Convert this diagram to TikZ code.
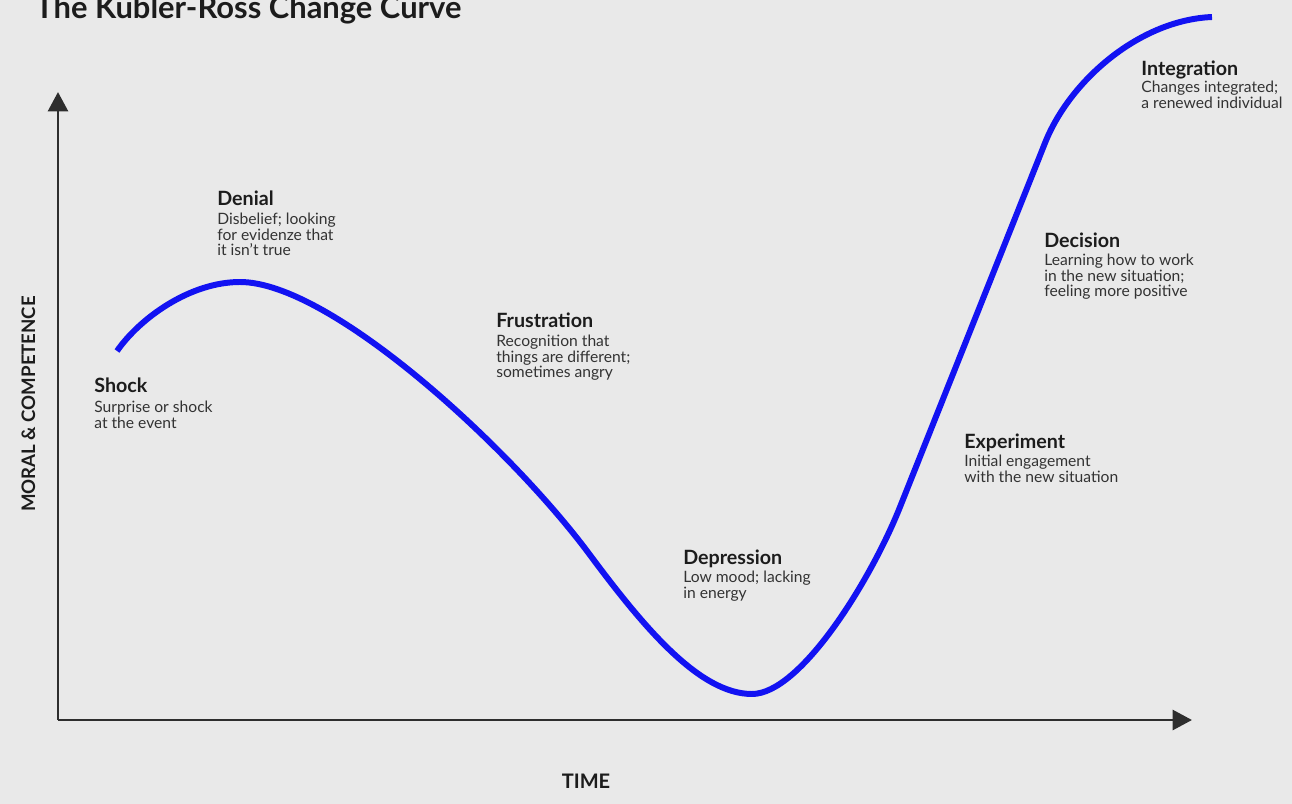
\documentclass[tikz,border=0pt]{standalone}
\usepackage{fontspec}
\setmainfont{Lato}
\usetikzlibrary{arrows.meta}
\definecolor{paper}{HTML}{E9E9E9}
\definecolor{curveblue}{HTML}{1212F2}
\definecolor{axisgrey}{HTML}{2E2E2E}
\definecolor{ink}{HTML}{1C1C1C}
\definecolor{notegrey}{HTML}{333333}

\begin{document}
\begin{tikzpicture}[x=0.02cm, y=-0.02cm,
    stage/.style={anchor=base west, inner sep=0pt, text=ink,
        font=\fontsize{11.2}{13}\selectfont\bfseries},
    note/.style={anchor=north west, inner sep=0pt, align=left, text=notegrey,
        font=\fontsize{8.9}{8.8}\selectfont},
    axis/.style={line width=1.7pt, draw=axisgrey,
        -{Triangle[width=11.3pt,length=11pt]}},
    axislabel/.style={inner sep=0pt, text=ink,
        font=\fontsize{10.6}{12}\selectfont\bfseries}]

        % Page
        \useasboundingbox (0,0) rectangle (1292,804);
        \clip (0,0) rectangle (1292,804);
        \fill[paper] (0,0) rectangle (1292,804);

        % Title
        \node[anchor=base west, inner sep=0pt, text=ink,
            font=\fontsize{17.6}{20}\selectfont\bfseries] (title) at (35,19)
            {The Kubler-Ross Change Curve};

        % Axes
        \coordinate (origin) at (58,720);
        \coordinate (ytop) at (58,92);
        \coordinate (xend) at (1192,720);
        \draw[axis] (origin) -- (ytop);
        \draw[axis] (origin) -- (xend);
        \node[axislabel, rotate=90, anchor=base] (moral) at (35,404) {MORAL \& COMPETENCE};
        \node[axislabel, anchor=base, font=\fontsize{11.4}{13}\selectfont\bfseries] (time) at (586,788) {TIME};

        % Curve
        \draw[curveblue, line width=3.4pt, line cap=butt]
            (117,351) .. controls (140,318) and (190,282) .. (240,282)
            .. controls (330,282) and (510,447) .. (590,555)
            .. controls (645,629) and (700,694) .. (752,694)
            .. controls (800,694) and (870,582) .. (900,507)
            -- (1045,143)
            .. controls (1070,80) and (1140,20) .. (1212,17);

        % Shock
        \node[stage] (shock) at (94,393) {Shock};
        \node[note] (shocknote) at (94,401) {Surprise or shock\\at the event};

        % Denial
        \node[stage] (denial) at (217,206) {Denial};
        \node[note] (denialnote) at (217,213) {Disbelief; looking\\for evidenze that\\it isn’t true};

        % Frustration
        \node[stage] (frustration) at (496,328) {Frustration};
        \node[note] (frustrationnote) at (496,335) {Recognition that\\things are different;\\sometimes angry};

        % Depression
        \node[stage] (depression) at (683,564) {Depression};
        \node[note] (depressionnote) at (683,571) {Low mood; lacking\\in energy};

        % Experiment
        \node[stage] (experiment) at (964,448) {Experiment};
        \node[note] (experimentnote) at (964,455) {Initial engagement\\with the new situation};

        % Decision
        \node[stage] (decision) at (1044,248) {Decision};
        \node[note] (decisionnote) at (1044,254) {Learning how to work\\in the new situation;\\feeling more positive};

        % Integration
        \node[stage] (integration) at (1141,76) {Integration};
        \node[note] (integrationnote) at (1141,81) {Changes integrated;\\a renewed individual};

\end{tikzpicture}
\end{document}
